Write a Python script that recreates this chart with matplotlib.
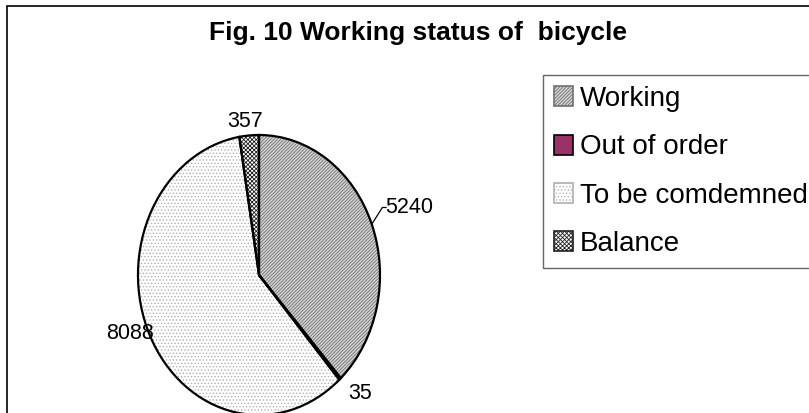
import numpy as np
import matplotlib.pyplot as plt
from matplotlib.patches import Patch, Rectangle

plt.rcParams['font.family'] = ['Liberation Sans', 'DejaVu Sans']
plt.rcParams['hatch.linewidth'] = 0.6

# data
categories = ['Working', 'Out of order', 'To be comdemned', 'Balance']
values = [5240, 35, 8088, 357]
title = 'Fig. 10 Working status of  bicycle'

# styles
face_colors = ['#d4d4d4', '#993366', '#ffffff', '#ffffff']
hatch_colors = ['#707070', '#993366', '#b0b0b0', '#202020']
hatches = ['//////////', None, '.....', 'xxxxxxxx']
label_dist = [1.33, 1.19, 1.15, 1.10]
label_shift = [0.0, 2.7, -4.0, 1.4]

fig = plt.figure(figsize=(8.09, 4.13), dpi=100)

# outer chart frame
fig.patches.append(Rectangle((7 / 809, -0.1), 1.1, 1 - 6 / 413 + 0.1,
                             transform=fig.transFigure, fill=False,
                             edgecolor='black', linewidth=1.2))

ax = fig.add_axes([138 / 809, -2 / 413, 242 / 809, 280 / 413])

# fill + hatch layer
wedges, _ = ax.pie(values, startangle=90, counterclock=False,
                   colors=face_colors, radius=1.0,
                   wedgeprops=dict(linewidth=0))
for w, h, hc in zip(wedges, hatches, hatch_colors):
    if h:
        w.set_hatch(h)
        w.set_edgecolor(hc)

# outline layer
ax.pie(values, startangle=90, counterclock=False, colors=['none'] * 4,
       radius=1.0, wedgeprops=dict(linewidth=1.6, edgecolor='black'))

ax.set_aspect('auto')
ax.set_xlim(-1, 1)
ax.set_ylim(-1, 1)
ax.axis('off')

# data labels
for w, v, d, s in zip(wedges, values, label_dist, label_shift):
    a = np.deg2rad((w.theta1 + w.theta2) / 2 + s)
    x, y = d * np.cos(a), d * np.sin(a)
    ax.text(x, y, str(v), ha='center', va='center', fontsize=15.5,
            clip_on=False)
    if v == 5240:
        a0 = np.deg2rad((w.theta1 + w.theta2) / 2)
        ax.plot([np.cos(a0), x - 0.22, x - 0.19],
                [np.sin(a0), y, y], color='black', lw=0.9, clip_on=False)

# legend
handles = [Patch(facecolor=fc, edgecolor=hc if h else 'black', hatch=h)
           for fc, hc, h in zip(face_colors, hatch_colors, hatches)]
leg = fig.legend(handles, categories, loc='upper left',
                 bbox_to_anchor=(543 / 809, 1 - 75 / 413), fontsize=20,
                 frameon=True, fancybox=False, shadow=False,
                 handlelength=0.68, handleheight=0.72, handletextpad=0.25,
                 labelspacing=0.8, borderpad=0.4, borderaxespad=0)
leg.get_frame().set_edgecolor('#404040')
leg.get_frame().set_linewidth(1.0)
for p in leg.get_patches():
    p.set_linewidth(1.2)

fig.text(418 / 809, 1 - 33 / 413, title, ha='center', va='center',
         fontsize=19, fontweight='bold')

fig.savefig('out.png', dpi=100)
